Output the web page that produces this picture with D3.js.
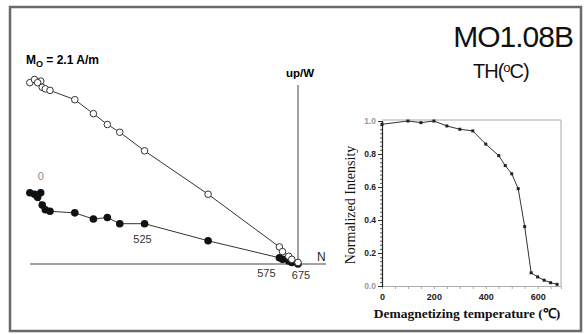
<!DOCTYPE html>
<html>
<head>
<meta charset="utf-8">
<script src="https://cdn.jsdelivr.net/npm/d3@7"></script>
<style>
  body { margin: 0; background: #fff; }
  svg { display: block; }
  .sans { font-family: 'Liberation Sans', Arial, sans-serif; }
  .serif { font-family: 'Liberation Serif', 'Times New Roman', serif; }
</style>
</head>
<body>
<div id="chart"></div>
<script>
// demag steps (deg C)
const temps = [0, 100, 150, 200, 250, 300, 350, 400, 450, 475, 500, 525, 550, 575, 600, 625, 650, 675];
// Zijderveld components (A/m)
const north = [-1.66, -1.73, -1.70, -1.68, -1.65, -1.63, -1.60, -1.44, -1.32, -1.23, -1.15, -0.99, -0.58, -0.12, -0.10, -0.06, -0.04, 0.0];
const west = [0.46, 0.46, 0.45, 0.43, 0.38, 0.35, 0.34, 0.33, 0.29, 0.30, 0.26, 0.26, 0.15, 0.04, 0.03, 0.02, 0.01, 0.0];
const up = [1.18, 1.17, 1.19, 1.17, 1.14, 1.13, 1.12, 1.06, 0.97, 0.90, 0.85, 0.73, 0.45, 0.11, 0.08, 0.05, 0.03, 0.01];
// normalized intensity
const intensity = [0.98, 1.0, 0.99, 1.0, 0.97, 0.95, 0.94, 0.86, 0.79, 0.73, 0.68, 0.59, 0.36, 0.08, 0.055, 0.035, 0.02, 0.01];
const labelTemps = [0, 525, 575, 675];
const xTicks = [0, 200, 400, 600];
const yTicks = [0, 0.2, 0.4, 0.6, 0.8, 1.0];

const width = 588;
const height = 334;

const svg = d3
  .select('#chart')
  .append('svg')
  .attr('width', width)
  .attr('height', height);

// outer frame
svg
  .append('rect')
  .attr('x', 10)
  .attr('y', 7)
  .attr('width', 571)
  .attr('height', 324)
  .attr('fill', 'none')
  .attr('stroke', '#6a6a6a')
  .attr('stroke-width', 2.5);

// ---- Zijderveld plot
const zx = d3.scaleLinear().domain([0, 1]).range([298, 298 + 155]);
const zy = d3.scaleLinear().domain([0, 1]).range([264, 264 - 155]);

svg.append('line')
  .attr('x1', 30).attr('x2', 326)
  .attr('y1', zy(0)).attr('y2', zy(0))
  .attr('stroke', '#444').attr('stroke-width', 1);
svg.append('line')
  .attr('x1', zx(0)).attr('x2', zx(0))
  .attr('y1', 85).attr('y2', zy(0))
  .attr('stroke', '#444').attr('stroke-width', 1);

svg.append('text').classed('sans', true)
  .attr('x', 317).attr('y', 261)
  .attr('font-size', 12).attr('fill', '#222')
  .text('N');
svg.append('text').classed('sans', true)
  .attr('x', 286).attr('y', 77)
  .attr('font-size', 11.5).attr('font-weight', 'bold')
  .text('up/W');

const mo = svg.append('text').classed('sans', true)
  .attr('x', 26).attr('y', 64)
  .attr('font-size', 12).attr('font-weight', 'bold');
mo.append('tspan').text('M');
mo.append('tspan').attr('font-size', 9).attr('dy', 3).text('O');
mo.append('tspan').attr('dy', -3).text(' = 2.1 A/m');

const vert = temps.map((t, i) => [zx(north[i]), zy(up[i])]);
const horiz = temps.map((t, i) => [zx(north[i]), zy(west[i])]);

const line = d3.line();
svg.append('path').attr('d', line(vert))
  .attr('fill', 'none').attr('stroke', '#333').attr('stroke-width', 1);
svg.append('path').attr('d', line(horiz))
  .attr('fill', 'none').attr('stroke', '#333').attr('stroke-width', 1);

svg.selectAll('.hpt')
  .data(horiz)
  .enter()
  .append('circle')
  .classed('hpt', true)
  .attr('cx', (d) => d[0])
  .attr('cy', (d) => d[1])
  .attr('r', 3.8)
  .attr('fill', '#111');

svg.selectAll('.vpt')
  .data(vert)
  .enter()
  .append('circle')
  .classed('vpt', true)
  .attr('cx', (d) => d[0])
  .attr('cy', (d) => d[1])
  .attr('r', 3.3)
  .attr('fill', '#fff')
  .attr('stroke', '#333')
  .attr('stroke-width', 1);

// step labels
const labelOffsets = { 0: [0, -13, '#888'], 525: [-2, 19, '#333'], 575: [-13, 19, '#333'], 675: [3, 15, '#333'] };
svg.selectAll('.step-label')
  .data(labelTemps)
  .enter()
  .append('text')
  .classed('sans', true)
  .attr('text-anchor', 'middle')
  .attr('font-size', 11)
  .attr('x', (t) => horiz[temps.indexOf(t)][0] + labelOffsets[t][0])
  .attr('y', (t) => horiz[temps.indexOf(t)][1] + labelOffsets[t][1])
  .attr('fill', (t) => labelOffsets[t][2])
  .text((t) => t);

// ---- title
svg.append('text').classed('sans', true)
  .attr('x', 573).attr('y', 47)
  .attr('text-anchor', 'end')
  .attr('font-size', 30)
  .attr('letter-spacing', -1)
  .attr('fill', '#111')
  .text('MO1.08B');
const th = svg.append('text').classed('sans', true)
  .attr('x', 473).attr('y', 78)
  .attr('font-size', 20)
  .attr('letter-spacing', -1)
  .attr('fill', '#111');
th.append('tspan').text('TH(');
th.append('tspan').attr('font-size', 13).attr('dy', -6).text('o');
th.append('tspan').attr('dy', 6).text('C)');

// ---- inset intensity plot
const ix = d3.scaleLinear().domain([0, 690]).range([382, 561]);
const iy = d3.scaleLinear().domain([0, 1]).range([286, 121]);

const inset = svg.append('g');

// top/right border
inset.append('path')
  .attr('d', `M${ix(0)},${iy(1) - 1}H${ix(690)}V${iy(0)}`)
  .attr('fill', 'none').attr('stroke', '#aaa').attr('stroke-width', 1);

const minorX = d3.axisBottom(ix).tickValues(d3.range(0, 700, 50)).tickSize(3).tickFormat('');
inset.append('g')
  .attr('transform', `translate(0,${iy(0)})`)
  .call(minorX)
  .call((g) => g.selectAll('line, path').attr('stroke', '#aaa'));
inset.append('g')
  .attr('transform', `translate(0,${iy(0)})`)
  .call(d3.axisBottom(ix).tickValues(xTicks).tickSize(0).tickPadding(8))
  .call((g) => g.select('.domain').remove())
  .call((g) => g.selectAll('text')
    .attr('font-family', "'Liberation Sans', Arial, sans-serif")
    .attr('font-weight', 'bold').attr('font-size', 9).attr('fill', '#222'));

const minorY = d3.axisLeft(iy).tickValues(d3.range(0, 1.001, 0.025)).tickSize(2).tickFormat('');
inset.append('g')
  .attr('transform', `translate(${ix(0)},0)`)
  .call(minorY)
  .call((g) => g.selectAll('line').attr('stroke', '#555'))
  .call((g) => g.select('.domain').attr('stroke', '#222').attr('stroke-width', 1.2));
inset.append('g')
  .attr('transform', `translate(${ix(0)},0)`)
  .call(d3.axisLeft(iy).tickValues(yTicks).tickSize(4).tickPadding(2).tickFormat(d3.format('.1f')))
  .call((g) => g.select('.domain').remove())
  .call((g) => g.selectAll('line').attr('stroke', '#333'))
  .call((g) => g.selectAll('text')
    .attr('font-family', "'Liberation Sans', Arial, sans-serif")
    .attr('font-weight', 'bold').attr('font-size', 8.5)
    .attr('fill', (d) => (d === 0 || d === 1 ? '#999' : '#222')));

inset.append('path')
  .attr('d', d3.line().x((d, i) => ix(temps[i])).y((d) => iy(d))(intensity))
  .attr('fill', 'none').attr('stroke', '#333').attr('stroke-width', 1);
inset.selectAll('.ipt')
  .data(intensity)
  .enter()
  .append('rect')
  .classed('ipt', true)
  .attr('x', (d, i) => ix(temps[i]) - 1.5)
  .attr('y', (d) => iy(d) - 1.5)
  .attr('width', 3)
  .attr('height', 3)
  .attr('fill', '#222');

svg.append('text').classed('serif', true)
  .attr('transform', 'translate(355,205) rotate(-90)')
  .attr('text-anchor', 'middle')
  .attr('font-size', 14)
  .attr('fill', '#111')
  .text('Normalized Intensity');
svg.append('text').classed('serif', true)
  .attr('x', 467).attr('y', 318)
  .attr('text-anchor', 'middle')
  .attr('font-size', 13.5)
  .attr('font-weight', 'bold')
  .attr('fill', '#111')
  .text('Demagnetizing temperature (\u2103)');
</script>
</body>
</html>
